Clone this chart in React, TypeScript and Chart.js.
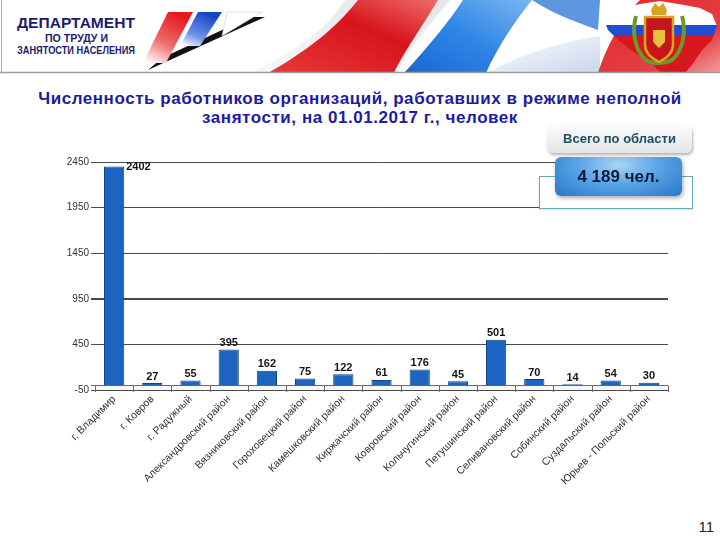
import React, { useEffect, useRef } from "react";
import { Chart, registerables } from "chart.js";

Chart.register(...registerables);

const categories: string[] = [
  "г. Владимир",
  "г. Ковров",
  "г. Радужный",
  "Александровский район",
  "Вязниковский район",
  "Гороховецкий район",
  "Камешковский район",
  "Киржачский район",
  "Ковровский район",
  "Кольчугинский район",
  "Петушинский район",
  "Селивановский район",
  "Собинский район",
  "Суздальский район",
  "Юрьев - Польский район",
];
const workers: number[] = [2402, 27, 55, 395, 162, 75, 122, 61, 176, 45, 501, 70, 14, 54, 30];
const yMin = -50;
const yMax = 2450;
const yStep = 500;
const titleText = "Численность работников организаций, работавших в режиме неполной занятости, на 01.01.2017 г., человек";
const totalLabel = "Всего по области";
const totalValue = "4 189 чел.";
const pageNumber = "11";

const FONT = "'Liberation Sans', Arial, sans-serif";

const floorPlugin = {
  id: "floorBand",
  beforeDatasetsDraw(chart: any) {
    const { ctx, chartArea, scales } = chart;
    const y0 = scales.y.getPixelForValue(0);
    const y1 = scales.y.getPixelForValue(yMin);
    ctx.save();
    ctx.fillStyle = "#f6f6f6";
    ctx.fillRect(chartArea.left, y0, chartArea.right - chartArea.left, y1 - y0);
    ctx.strokeStyle = "#6b6b6b";
    ctx.lineWidth = 1;
    ctx.beginPath();
    ctx.moveTo(chartArea.left - 4, Math.round(y0) + 0.5);
    ctx.lineTo(chartArea.right, Math.round(y0) + 0.5);
    const n = categories.length;
    for (let i = 0; i <= n; i++) {
      const x = Math.round(chartArea.left + ((chartArea.right - chartArea.left) * i) / n) + 0.5;
      ctx.moveTo(x, y0);
      ctx.lineTo(x, y1 + 2);
    }
    ctx.stroke();
    ctx.restore();
  },
};

const labelPlugin = {
  id: "valueLabels",
  afterDatasetsDraw(chart: any) {
    const { ctx } = chart;
    const meta = chart.getDatasetMeta(0);
    ctx.save();
    ctx.font = `bold 11px ${FONT}`;
    ctx.fillStyle = "#151515";
    meta.data.forEach((bar: any, i: number) => {
      const v = workers[i];
      if (v > 2000) {
        ctx.textAlign = "left";
        ctx.textBaseline = "middle";
        ctx.fillText(String(v), bar.x + bar.width / 2 + 2, bar.y + 1);
      } else {
        ctx.textAlign = "center";
        ctx.textBaseline = "bottom";
        ctx.fillText(String(v), bar.x, bar.y - 1);
      }
    });
    ctx.restore();
  },
};

function Header() {
  return (
    <svg width={720} height={76} style={{ position: "absolute", left: 0, top: 0 }}>
      <defs>
        <linearGradient id="redLogo" x1="0.6" y1="0" x2="0.1" y2="1">
          <stop offset="0" stopColor="#e3191f" />
          <stop offset="0.55" stopColor="#ef6d6d" />
          <stop offset="1" stopColor="#ffffff" />
        </linearGradient>
        <linearGradient id="blueLogo" x1="0.6" y1="0" x2="0.1" y2="1">
          <stop offset="0" stopColor="#1543c6" />
          <stop offset="0.65" stopColor="#6d95e6" />
          <stop offset="1" stopColor="#ffffff" />
        </linearGradient>
        <linearGradient id="redWave" x1="0" y1="1" x2="1" y2="0">
          <stop offset="0" stopColor="#e83a3a" />
          <stop offset="0.6" stopColor="#d7141c" />
          <stop offset="1" stopColor="#f06c6c" />
        </linearGradient>
        <linearGradient id="blueWave" x1="0" y1="1" x2="1" y2="0">
          <stop offset="0" stopColor="#1b66d2" />
          <stop offset="0.5" stopColor="#2f86e6" />
          <stop offset="1" stopColor="#7bb6f2" />
        </linearGradient>
        <linearGradient id="paleWave" x1="0" y1="0" x2="1" y2="1">
          <stop offset="0" stopColor="#ffffff" />
          <stop offset="1" stopColor="#c9d6ee" />
        </linearGradient>
        <linearGradient id="greyWave" x1="0" y1="1" x2="1" y2="0">
          <stop offset="0" stopColor="#f2f2f2" />
          <stop offset="1" stopColor="#d4d4d8" />
        </linearGradient>
        <linearGradient id="rightRed" x1="0" y1="0" x2="1" y2="1">
          <stop offset="0" stopColor="#e0262a" />
          <stop offset="0.7" stopColor="#e44044" />
          <stop offset="1" stopColor="#f2a0a0" />
        </linearGradient>
        <clipPath id="mapClip">
          <path d="M602 6 L612 3 L622 8 L640 4 L660 1 L684 5 L700 8 L712 14 L717 26 L712 40 L702 50 L694 62 L686 72 L660 72 L650 62 L640 56 L628 48 L616 38 L608 30 L604 20 Z" />
        </clipPath>
      </defs>
      <rect x={0} y={0} width={720} height={73} fill="#ffffff" />
      {/* flag wave */}
      <path d="M250 73 C300 50 330 25 345 0 L450 0 C425 30 405 55 398 73 Z" fill="url(#greyWave)" opacity={0.6} />
      <path d="M268 73 C318 45 342 20 358 0 L438 0 C420 30 402 55 394 73 Z" fill="url(#redWave)" />
      <path d="M404 73 C430 45 450 20 463 0 L532 0 C512 25 496 50 486 73 Z" fill="url(#blueWave)" />
      <path d="M486 73 C520 55 560 42 600 36 L600 73 Z" fill="url(#paleWave)" />
      <path d="M532 0 L600 0 L598 30 C570 20 550 12 532 0 Z" fill="#5d97e0" />
      <path d="M598 73 C605 50 620 20 640 0 L720 0 L720 73 Z" fill="url(#rightRed)" />
      <g clipPath="url(#mapClip)">
        <rect x={600} y={0} width={120} height={25} fill="#ffffff" />
        <rect x={600} y={25} width={120} height={11} fill="#1f4fd0" />
        <rect x={600} y={36} width={120} height={40} fill="#d9161d" />
      </g>
      {/* coat of arms */}
      <path d="M636 16 C632 30 634 50 646 60 C652 64 664 64 672 60 C684 50 686 30 682 16" fill="none" stroke="#6a9a2a" strokeWidth={4} />
      <path d="M645 17 L673 17 L673 45 C673 54 665 59 659 62 C653 59 645 54 645 45 Z" fill="#c8151b" stroke="#d9a520" strokeWidth={2.5} />
      <path d="M651 10 L655 3 L659 7 L663 3 L667 10 L666 15 L652 15 Z" fill="#d9a520" />
      <path d="M653 30 L665 30 L665 42 L659 48 L653 42 Z" fill="#e8c040" />
      {/* logo */}
      <path d="M148 70 L265 17 L250 17 L162 58 Z" fill="#111111" />
      <path d="M168 12 L193 12 L166 63 L143 63 Z" fill="url(#redLogo)" />
      <path d="M198 12 L222 12 L200 46 L180 46 Z" fill="url(#blueLogo)" />
      <path d="M227 12 L262 12 L222 36 Z" fill="#ffffff" stroke="#cccccc" strokeWidth={0.6} />
      {/* department text */}
      <text x={17} y={28} fontFamily={FONT} fontWeight="bold" fontSize={14} fill="#1b1b6b" textLength={118} lengthAdjust="spacingAndGlyphs">ДЕПАРТАМЕНТ</text>
      <text x={45} y={42} fontFamily={FONT} fontWeight="bold" fontSize={11} fill="#1b1b6b" textLength={63} lengthAdjust="spacingAndGlyphs">ПО ТРУДУ И</text>
      <text x={17} y={54} fontFamily={FONT} fontWeight="bold" fontSize={11} fill="#1b1b6b" textLength={118} lengthAdjust="spacingAndGlyphs">ЗАНЯТОСТИ НАСЕЛЕНИЯ</text>
      <line x1={0} y1={72.5} x2={720} y2={72.5} stroke="#9a9a9a" strokeWidth={1.5} />
      <line x1={1.5} y1={0} x2={1.5} y2={73} stroke="#b0b0b0" strokeWidth={1} />
    </svg>
  );
}

function BarChart() {
  const ref = useRef<HTMLCanvasElement | null>(null);
  useEffect(() => {
    if (!ref.current) return;
    const chart = new Chart(ref.current, {
      type: "bar",
      data: {
        labels: categories,
        datasets: [
          {
            data: workers,
            backgroundColor: "#1c63c2",
            borderColor: "#12427f",
            borderWidth: 1,
            barPercentage: 0.53,
            categoryPercentage: 1,
          },
        ],
      },
      options: {
        animation: false,
        responsive: true,
        maintainAspectRatio: false,
        layout: { padding: { top: 12, right: 22, left: 0, bottom: 0 } },
        plugins: { legend: { display: false }, tooltip: { enabled: false } },
        scales: {
          x: {
            grid: { display: false },
            border: { display: false },
            ticks: {
              autoSkip: false,
              minRotation: 45,
              maxRotation: 45,
              color: "#333333",
              padding: -5,
              font: { family: FONT, size: 10.5 },
            },
            afterFit: (s: any) => {
              s.height = 120;
            },
          },
          y: {
            min: yMin,
            max: yMax,
            border: { display: false },
            grid: {
              color: "#4a4a4a",
              lineWidth: (c: any) => (c.tick && c.tick.value === 950 ? 2 : 1),
              tickLength: 4,
            },
            ticks: {
              stepSize: yStep,
              color: "#333333",
              padding: 2,
              font: { family: FONT, size: 10 },
              callback: (v: any) => String(v),
            },
            afterFit: (s: any) => {
              s.width = 65;
            },
          },
        },
      },
      plugins: [floorPlugin, labelPlugin],
    });
    return () => chart.destroy();
  }, []);
  return (
    <div style={{ position: "absolute", left: 30, top: 150, width: 660, height: 360 }}>
      <canvas ref={ref} />
    </div>
  );
}

export default function App() {
  return (
    <div
      style={{
        position: "absolute",
        left: 0,
        top: 0,
        width: 720,
        height: 540,
        background: "#ffffff",
        overflow: "hidden",
        fontFamily: FONT,
      }}
    >
      <Header />
      <div
        style={{
          position: "absolute",
          left: 10,
          top: 89,
          width: 700,
          textAlign: "center",
          fontWeight: "bold",
          fontSize: 17,
          lineHeight: "19px",
          color: "#1c1c9e",
          letterSpacing: 0.55,
        }}
      >
        {titleText}
      </div>
      <BarChart />
      <div
        style={{
          position: "absolute",
          left: 539,
          top: 176,
          width: 152,
          height: 31,
          border: "1.5px solid #6aaab8",
          background: "#ffffff",
          boxShadow: "0 1px 2px rgba(0,0,0,0.15)",
        }}
      />
      <div
        style={{
          position: "absolute",
          left: 547,
          top: 125,
          width: 145,
          height: 28,
          borderRadius: 6,
          background: "linear-gradient(#fbfbfb, #e3e5e6)",
          boxShadow: "1px 2px 3px rgba(0,0,0,0.3)",
          color: "#1d4f66",
          fontWeight: "bold",
          fontSize: 13,
          lineHeight: "28px",
          textAlign: "center",
        }}
      >
        {totalLabel}
      </div>
      <div
        style={{
          position: "absolute",
          left: 555,
          top: 157,
          width: 127,
          height: 39,
          borderRadius: 6,
          background: "radial-gradient(ellipse at 50% 20%, #a9d4f5 0%, #5aa4e6 45%, #2676c8 100%)",
          boxShadow: "1px 2px 4px rgba(0,0,0,0.35)",
          color: "#0c1c36",
          fontWeight: "bold",
          fontSize: 17,
          lineHeight: "39px",
          textAlign: "center",
        }}
      >
        {totalValue}
      </div>
      <div
        style={{
          position: "absolute",
          left: 690,
          top: 518,
          width: 24,
          textAlign: "right",
          fontSize: 15,
          color: "#222222",
        }}
      >
        {pageNumber}
      </div>
    </div>
  );
}
